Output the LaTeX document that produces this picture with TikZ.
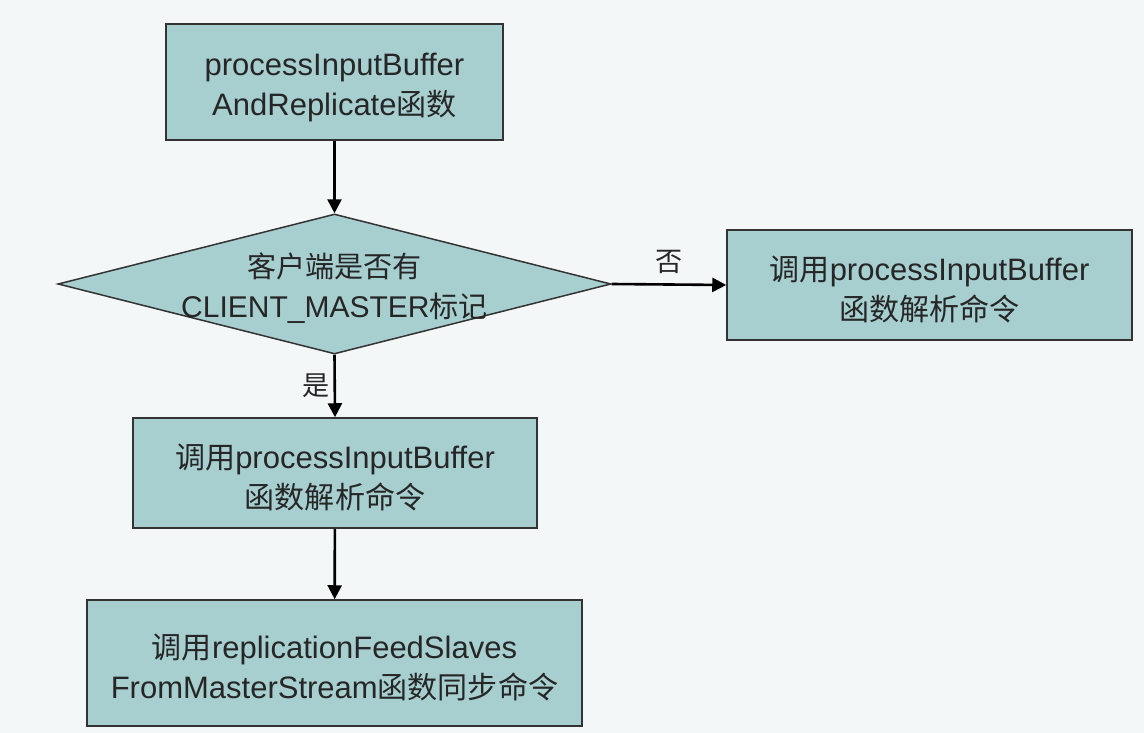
\documentclass[tikz,border=0pt]{standalone}
\usepackage{fontspec}
\setmainfont{Liberation Sans}
\newfontfamily\cjk[Scale=0.97]{Noto Sans CJK SC}
\usetikzlibrary{shapes.geometric,arrows.meta}
\definecolor{bgc}{HTML}{F3F7F8}
\definecolor{boxc}{HTML}{A8CFD0}
\definecolor{edgec}{HTML}{333333}
\newcommand\mystrut{\rule{0pt}{33pt}}
\tikzset{
  box/.style={draw=edgec, line width=1.5pt, fill=boxc, inner sep=0pt, align=center,
    font=\fontsize{31}{40}\selectfont, text=black!85},
  dia/.style={draw=edgec, line width=1.5pt, fill=boxc, shape=diamond, inner sep=0pt,
    minimum width=553pt, minimum height=140pt, aspect=3.95},
  txt/.style={align=center, font=\fontsize{30}{40}\selectfont, text=black!85, inner sep=0pt},
  arr/.style={line width=2.6pt, -{Triangle[length=14pt,width=14pt]}},
  lbl/.style={font=\fontsize{28}{30}\selectfont\cjk, text=black!85, inner sep=0pt}
}
\begin{document}
\begin{tikzpicture}[x=1pt,y=-1pt]
\useasboundingbox (0,0) rectangle (1144,733);
\fill[bgc] (0,0) rectangle (1144,733);
\node[box, minimum width=337pt, minimum height=116pt] (top) at (334.5,82) {\mystrut processInputBuffer\\AndReplicate{\cjk 函数}};
\node[dia] (d) at (334.5,284) {};
\node[txt] (dt) at (334.5,284) {\mystrut{\cjk 客户端是否有}\\CLIENT\_MASTER{\cjk 标记}};
\node[box, minimum width=405pt, minimum height=110pt] (right) at (929.5,285) {\mystrut{\cjk 调用}processInputBuffer\\{\cjk 函数解析命令}};
\node[box, minimum width=404pt, minimum height=110pt] (mid) at (335,473) {\mystrut{\cjk 调用}processInputBuffer\\{\cjk 函数解析命令}};
\node[box, minimum width=495pt, minimum height=126pt] (bot) at (334.5,663) {\mystrut{\cjk 调用}replicationFeedSlaves\\FromMasterStream{\cjk 函数同步命令}};
\draw[arr] (top) -- (d);
\draw[arr] (d.east) -- (right.west) node[lbl, pos=0.5, above=10pt] (no) {否};
\draw[arr] (d.south) -- (mid.north) node[lbl, pos=0.5, left=4pt] (yes) {是};
\draw[arr] (mid) -- (bot);
\end{tikzpicture}
\end{document}
